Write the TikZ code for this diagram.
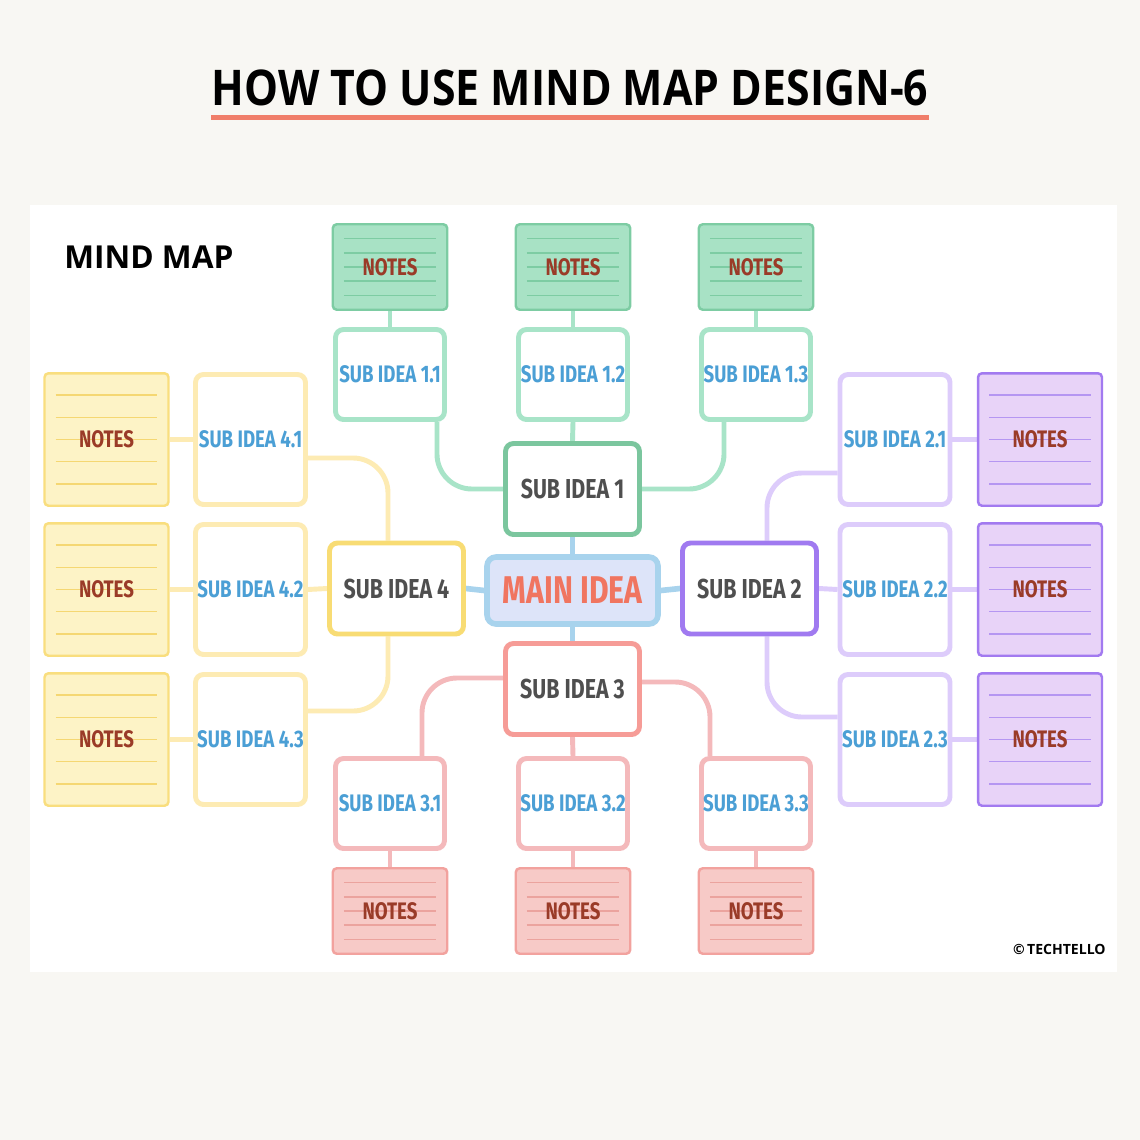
\documentclass[tikz,border=0pt]{standalone}
\usepackage{fontspec}
\setmainfont{Open Sans}
\newfontfamily\headfont[FakeStretch=0.87]{Open Sans}
\newfontfamily\ideafont[FakeStretch=0.78]{Fira Sans}
\usetikzlibrary{positioning,calc}

\definecolor{paper}{HTML}{F8F7F3}
\definecolor{titlerule}{HTML}{F07E6A}
\definecolor{notestext}{HTML}{9A3B28}
\definecolor{subtext}{HTML}{4B9FD5}
\definecolor{topictext}{HTML}{4F4F4F}
\definecolor{maintext}{HTML}{F07560}
\definecolor{mainfill}{HTML}{DDE4F9}
\definecolor{mainline}{HTML}{A8D3ED}
% branch 1
\definecolor{greenfill}{HTML}{A8E2C5}
\definecolor{greenline}{HTML}{7DCCA3}
\definecolor{greenbox}{HTML}{A8E4C8}
\definecolor{sub1line}{HTML}{7BC69E}
% branch 2
\definecolor{purplefill}{HTML}{E8D3F8}
\definecolor{purpleline}{HTML}{A27AF0}
\definecolor{purplerule}{HTML}{B596F2}
\definecolor{purplebox}{HTML}{DDCCFB}
\definecolor{sub2line}{HTML}{A07AF0}
% branch 3
\definecolor{redfill}{HTML}{F7CAC7}
\definecolor{redline}{HTML}{F2A29E}
\definecolor{redrule}{HTML}{EBA39E}
\definecolor{redbox}{HTML}{F4B9BB}
\definecolor{sub3line}{HTML}{F69C97}
% branch 4
\definecolor{yellowfill}{HTML}{FDF3C6}
\definecolor{yellowline}{HTML}{F9DE7E}
\definecolor{yellowrule}{HTML}{F5D772}
\definecolor{yellowbox}{HTML}{FDEBB3}
\definecolor{sub4line}{HTML}{F8DC74}

\pgfdeclarelayer{sheet}
\pgfdeclarelayer{wires}
\pgfsetlayers{sheet,wires,main}

\tikzset{
  idea/.style={draw=#1, line width=2.8pt, fill=white, rounded corners=0.16cm,
    minimum width=2.18cm, minimum height=1.8cm, inner sep=0pt, text=subtext,
    font=\ideafont\bfseries\fontsize{13.6}{15}\selectfont},
  tall/.style={minimum width=2.2cm, minimum height=2.6cm},
  topic/.style={idea=#1, minimum width=2.68cm, minimum height=1.82cm, text=topictext,
    font=\ideafont\bfseries\fontsize{15.6}{17}\selectfont},
  mainbox/.style={draw=mainline, fill=mainfill, line width=3.2pt, rounded corners=0.18cm,
    minimum width=3.42cm, minimum height=1.34cm, text=maintext,
    font=\ideafont\bfseries\fontsize{22}{24}\selectfont},
  notes/.style 2 args={draw=#1, fill=#2, line width=1.4pt, rounded corners=0.08cm,
    minimum width=2.29cm, minimum height=1.71cm, inner sep=0pt, text=notestext,
    font=\ideafont\bfseries\fontsize{13.6}{15}\selectfont,
    path picture={
      \foreach \i in {1,...,5}
        \draw[#1, line width=1pt]
          ($(path picture bounding box.north west)!\i/6!(path picture bounding box.south west)+(0.22cm,0)$) --
          ($(path picture bounding box.north east)!\i/6!(path picture bounding box.south east)+(-0.22cm,0)$);
    }},
  big/.style={minimum width=2.48cm, minimum height=2.65cm},
  link/.style={draw=#1, line width=2.8pt, rounded corners=0.7cm},
}

\begin{document}
\begin{tikzpicture}[x=0.02cm, y=-0.02cm]
\begin{pgfonlayer}{sheet}
  \fill[paper] (0,0) rectangle (1140,1140);
  \fill[white] (30,205) rectangle (1117,972);
\end{pgfonlayer}
\useasboundingbox (0,0) rectangle (1140,1140);

% heading
\node[inner sep=0pt, font=\headfont\bfseries\fontsize{28}{30}\selectfont] (title) at (570,88) {HOW TO USE MIND MAP DESIGN-6};
\draw[titlerule, line width=2.4pt] ([yshift=-0.22cm]title.south west) -- ([yshift=-0.22cm]title.south east);
\node[anchor=west, inner sep=0pt, font=\bfseries\fontsize{18}{20}\selectfont] (mindmap) at (64,257) {MIND MAP};
\node[anchor=east, inner sep=0pt, font=\bfseries\fontsize{8}{9}\selectfont] (brand) at (1106,949) {\textcopyright\,TECHTELLO};

% centre and main topics
\node[mainbox] (main) at (572.5,590.5) {MAIN IDEA};
\node[topic=sub1line] (sub1) at (572.5,489) {SUB IDEA 1};
\node[topic=sub2line] (sub2) at (749.5,588.5) {SUB IDEA 2};
\node[topic=sub3line] (sub3) at (572.5,689) {SUB IDEA 3};
\node[topic=sub4line] (sub4) at (396.5,588.5) {SUB IDEA 4};

% branch 1 (top) and branch 3 (bottom)
\foreach \i/\x in {1/390,2/573,3/756} {
  \node[idea=greenbox] (sub1\i) at (\x,374.5) {SUB IDEA 1.\i};
  \node[notes={greenline}{greenfill}] (notes1\i) at (\x,267) {NOTES};
  \node[idea=redbox] (sub3\i) at (\x,803.5) {SUB IDEA 3.\i};
  \node[notes={redrule}{redfill}, draw=redline] (notes3\i) at (\x,911) {NOTES};
}

% branch 2 (right) and branch 4 (left)
\foreach \i/\y in {1/439.5,2/589.5,3/739.5} {
  \node[idea=purplebox, tall] (sub2\i) at (895,\y) {SUB IDEA 2.\i};
  \node[notes={purplerule}{purplefill}, draw=purpleline, big] (notes2\i) at (1040,\y) {NOTES};
  \node[idea=yellowbox, tall] (sub4\i) at (250.5,\y) {SUB IDEA 4.\i};
  \node[notes={yellowrule}{yellowfill}, draw=yellowline, big] (notes4\i) at (106.5,\y) {NOTES};
}

\begin{pgfonlayer}{wires}
  \draw[link=mainline, line width=3.2pt] (main.north) -- (sub1.south);
  \draw[link=mainline, line width=3.2pt] (main.south) -- (sub3.north);
  \draw[link=mainline, line width=3.2pt] (main.east) -- (sub2.west);
  \draw[link=mainline, line width=3.2pt] (main.west) -- (sub4.east);
  % branch 1
  \draw[link=greenbox] (sub1.west) -| ([xshift=0.94cm]sub11.south);
  \draw[link=greenbox] (sub1.north) -- (sub12.south);
  \draw[link=greenbox] (sub1.east) -| ([xshift=-0.64cm]sub13.south);
  % branch 2
  \draw[link=purplebox] ([xshift=0.35cm]sub2.north) |- ([yshift=-0.67cm]sub21.west);
  \draw[link=purplebox] (sub2.east) -- (sub22.west);
  \draw[link=purplebox] ([xshift=0.35cm]sub2.south) |- ([yshift=0.45cm]sub23.west);
  % branch 3
  \draw[link=redbox] ([yshift=0.22cm]sub3.west) -| ([xshift=0.64cm]sub31.north);
  \draw[link=redbox] (sub3.south) -- (sub32.north);
  \draw[link=redbox] ([yshift=0.14cm]sub3.east) -| ([xshift=-0.92cm]sub33.north);
  % branch 4
  \draw[link=yellowbox] ([xshift=-0.17cm]sub4.north) |- ([yshift=-0.37cm]sub41.east);
  \draw[link=yellowbox] (sub4.west) -- (sub42.east);
  \draw[link=yellowbox] ([xshift=-0.17cm]sub4.south) |- ([yshift=0.57cm]sub43.east);
  % notes
  \foreach \i in {1,2,3} {
    \draw[link=greenbox] (sub1\i.north) -- (notes1\i.south);
    \draw[link=redbox] (sub3\i.south) -- (notes3\i.north);
    \draw[link=purplebox] (sub2\i.east) -- (notes2\i.west);
    \draw[link=yellowbox] (sub4\i.west) -- (notes4\i.east);
  }
\end{pgfonlayer}
\end{tikzpicture}
\end{document}
